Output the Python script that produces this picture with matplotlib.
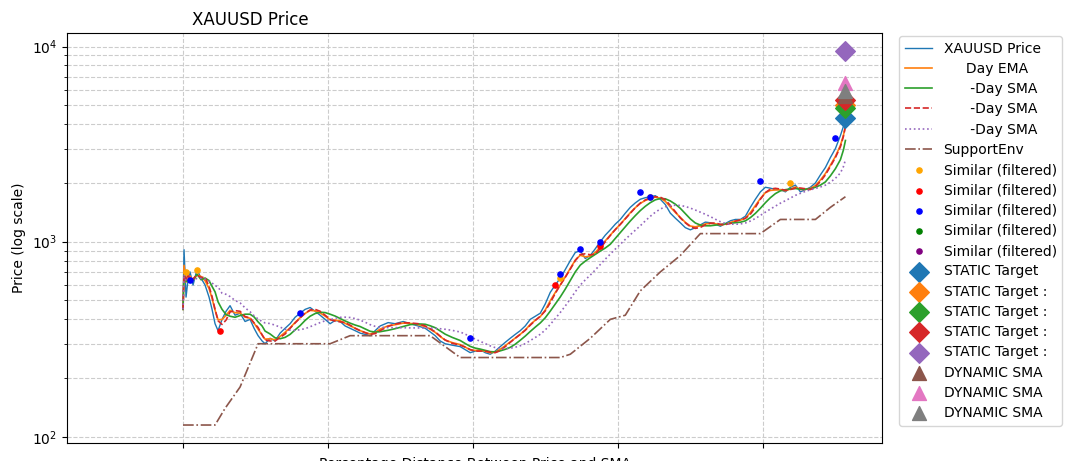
import matplotlib
matplotlib.use("Agg")
import matplotlib.pyplot as plt
import numpy as np
import pandas as pd

px = [183,184,186,188,190,193,197,201,205,209,212,215,218,222,226,230,235,240,245,250,254,258,262,265,270,275,280,285,290,295,300,305,310,315,320,325,330,335,340,345,350,355,360,365,370,375,380,388,395,403,410,418,425,430,435,440,445,452,460,465,470,475,480,485,490,495,500,505,510,515,520,525,530,535,540,545,550,555,560,565,570,575,580,585,590,595,600,605,610,615,620,625,630,635,640,645,650,655,660,665,670,675,680,685,690,695,700,705,710,715,720,725,730,735,740,745,750,755,760,765,770,775,780,785,790,795,800,805,810,815,820,825,830,835,840,843,845]
price = [450,910,520,640,700,600,720,650,600,520,450,380,350,400,440,470,420,430,390,400,360,330,310,300,320,310,340,360,380,410,430,450,460,440,420,400,380,395,390,370,360,350,340,335,330,350,370,385,380,390,380,370,360,345,330,310,300,295,290,280,270,275,280,270,265,275,290,305,320,335,350,370,400,415,430,480,550,600,650,720,800,880,900,820,850,920,1000,1080,1150,1230,1300,1400,1500,1580,1650,1680,1700,1720,1650,1550,1400,1320,1250,1180,1150,1180,1220,1260,1250,1230,1200,1240,1280,1300,1300,1350,1500,1650,1800,1900,1880,1850,1850,1800,1900,1950,1800,1850,1900,2000,2200,2400,2700,3000,3500,3900,4300]
years = [2000 + (p - 183) / 29 for p in px]

sup_px = [183,215,225,240,258,270,330,350,360,430,445,460,560,570,590,610,625,640,660,680,700,720,760,780,815,830,845]
sup_val = [115,115,140,180,300,300,300,330,330,330,290,255,255,265,320,400,420,560,700,850,1100,1100,1100,1300,1300,1500,1700]
sup_years = [2000 + (p - 183) / 29 for p in sup_px]

sim_orange_px = [186,197,560,650,790]
sim_orange = [700,720,650,1700,2000]
sim_red_px = [220,555,600]
sim_red = [350,600,950]
sim_blue_px = [190,300,470,560,580,600,640,650,760,835,843]
sim_blue = [640,430,320,680,920,1000,1800,1700,2050,3400,4200]
sim_green_px = [843]
sim_green = [4500]

end_year = years[-1]
static_vals = [4300, 5000, 4850, 5300, 9500]
dynamic_vals = [5600, 6500, 5900]
static_colors = ["#1f77b4", "#ff7f0e", "#2ca02c", "#d62728", "#9467bd"]
dynamic_colors = ["#8c564b", "#e377c2", "#7f7f7f"]
static_labels = ["STATIC Target", "STATIC Target :", "STATIC Target :", "STATIC Target :", "STATIC Target :"]

s = pd.Series(price)
ema = s.ewm(span=3).mean()
sma1 = s.rolling(6, min_periods=1).mean()
sma2 = s.rolling(3, min_periods=1).mean()
sma3 = s.rolling(12, min_periods=1).mean()

fig = plt.figure(figsize=(10.8, 4.61), dpi=100)
ax = fig.add_axes([0.062, 0.039, 0.755, 0.889])
ax.plot(years, price, color="#1f77b4", lw=1, label="XAUUSD Price")
ax.plot(years, ema, color="#ff7f0e", lw=1.2, label="     Day EMA")
ax.plot(years, sma1, color="#2ca02c", lw=1.2, label="      -Day SMA")
ax.plot(years, sma2, color="#d62728", lw=1.2, ls="--", label="      -Day SMA")
ax.plot(years, sma3, color="#9467bd", lw=1.2, ls=":", label="      -Day SMA")
ax.plot(sup_years, sup_val, color="#8c564b", lw=1.2, ls="-.", label="SupportEnv")
for pxs, vals, c in [(sim_orange_px, sim_orange, "orange"), (sim_red_px, sim_red, "red"),
                     (sim_blue_px, sim_blue, "blue"), (sim_green_px, sim_green, "green"), ([], [], "purple")]:
    ax.scatter([2000 + (p - 183) / 29 for p in pxs], vals, color=c, s=14, zorder=4, label="Similar (filtered)")
for v, c, l in zip(static_vals, static_colors, static_labels):
    ax.scatter([end_year], [v], marker="D", s=100, color=c, zorder=5, label=l)
for v, c in zip(dynamic_vals, dynamic_colors):
    ax.scatter([end_year], [v], marker="^", s=100, color=c, zorder=5, label="DYNAMIC SMA")

ax.set_yscale("log")
ax.set_ylim(93, 11700)
ax.set_xlim(1996, 2024.1)
ax.set_xticks([2000, 2005, 2010, 2015, 2020])
ax.set_xticklabels([])
ax.grid(True, which="both", ls="--", color="#cccccc", lw=0.8)
ax.set_ylabel("Price (log scale)")
ax.set_xlabel("Percentage Distance Between Price and SMA", labelpad=3)
fig.text(192/1080, 1 - 20/461, "XAUUSD Price", fontsize=12, va="center")
ax.legend(loc="upper left", bbox_to_anchor=(1.012, 1.01), fontsize=10, labelspacing=0.45)
fig.savefig("out.png", dpi=100)
